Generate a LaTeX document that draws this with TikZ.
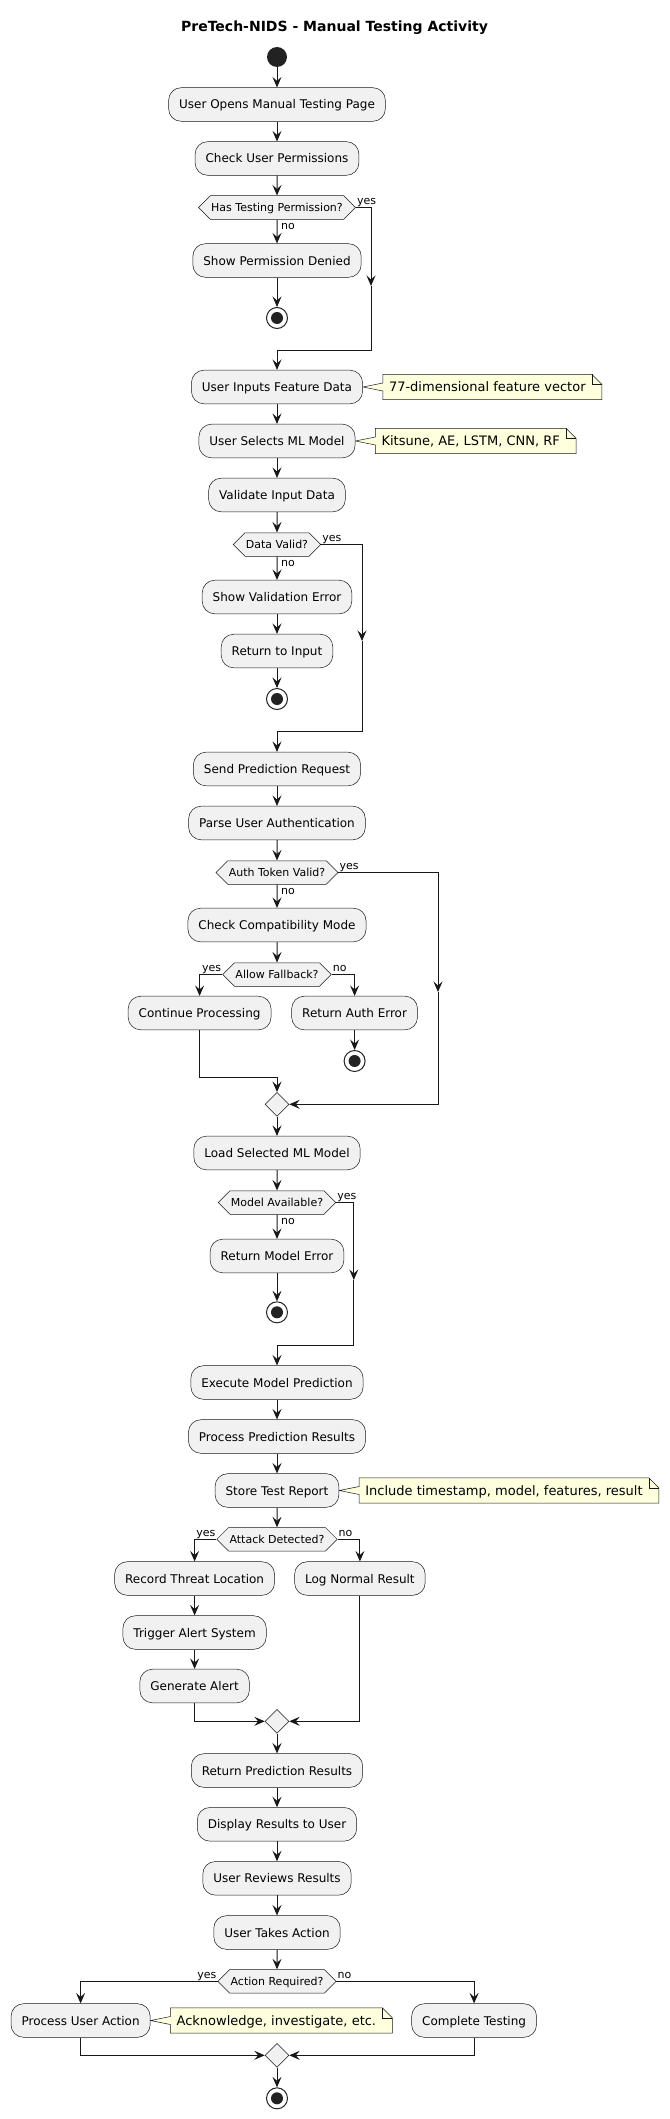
\documentclass[tikz,border=0pt]{standalone}
\usepackage{fontspec}
\setmainfont{DejaVu Sans}
\usetikzlibrary{positioning,arrows.meta,shapes.geometric,shapes.symbols,backgrounds}
\definecolor{actfill}{HTML}{F1F1F1}
\definecolor{edge}{HTML}{181818}
\definecolor{dot}{HTML}{222222}
\definecolor{notebg}{HTML}{FEFFDD}
\tikzset{%
  flow/.style = {-{Stealth[length=10.5pt,width=9pt,inset=4pt]},draw=edge,line width=1pt},
  act/.style = {rectangle,rounded corners=12.5pt,draw=edge,line width=0.5pt,fill=actfill,
        minimum height=33.6pt,inner xsep=10.5pt,inner ysep=0pt,text height=11pt,
        text depth=2pt,font=\fontsize{12}{14}\selectfont},
  dec/.style = {signal,signal to=east and west,signal pointer angle=90,draw=edge,
        line width=0.5pt,fill=actfill,minimum height=23.5pt,inner xsep=1pt,inner ysep=0pt,
        text height=9.5pt,text depth=2pt,font=\fontsize{11}{13}\selectfont},
  joint/.style = {diamond,draw=edge,line width=0.5pt,fill=actfill,minimum width=24pt,
        minimum height=24pt,inner sep=0pt},
  startdot/.style = {circle,fill=dot,minimum size=20pt,inner sep=0pt},
  stopdot/.style = {circle,draw=dot,line width=1pt,fill=white,minimum size=21pt,inner sep=0pt,
        path picture={\fill[dot] (path picture bounding box.center) circle (6pt);}},
  memo/.style = {rectangle,inner xsep=6pt,inner ysep=0pt,minimum height=25pt,
        text height=11.5pt,text depth=2pt,font=\fontsize{13}{15}\selectfont},
  memoedge/.style = {draw=edge,line width=0.5pt,fill=notebg},
  lbl/.style = {inner sep=0pt,font=\fontsize{11}{13}\selectfont}
}
% note outline with folded corner and a tail to its activity
\newcommand{\memoframe}[2]{%
  \begin{scope}[on background layer]
    \draw[memoedge] (#1.north west) -- (#1.north east)
      -- ([xshift=10pt,yshift=-10pt]#1.north east) -- ([xshift=10pt]#1.south east)
      -- (#1.south west) -- ([yshift=-4pt]#1.west) -- (#2.east)
      -- ([yshift=4pt]#1.west) -- cycle;
    \draw[memoedge,fill=none] (#1.north east) -- ([yshift=-10pt]#1.north east)
      -- ([xshift=10pt,yshift=-10pt]#1.north east);
  \end{scope}}

\begin{document}
\begin{tikzpicture}[x=1pt,y=-1pt]
\useasboundingbox (0,0) rectangle (669,2119);
\node[font=\bfseries\fontsize{14}{16}\selectfont] (title) at (334.5,28) {PreTech-NIDS - Manual Testing Activity};

% permission check
\node[startdot] (start) at (277,57) {};
\node[act] (open) at (277,104.5) {User Opens Manual Testing Page};
\node[act] (perm) at (277,158.5) {Check User Permissions};
\node[dec] (hasperm) at (277,207.5) {Has Testing Permission?};
\node[act] (denied) at (277,260.5) {Show Permission Denied};
\node[stopdot] (stopA) at (277,318) {};
\coordinate (permyes) at (371,286);
\coordinate (permjoin) at (277,350);
\node[lbl,anchor=base west] (permy) at ([xshift=1pt,yshift=3pt]hasperm.east) {yes};
\node[lbl,anchor=base west] (permn) at ([xshift=4pt,yshift=-10pt]hasperm.south) {no};

% input
\node[act] (inputs) at (277,387) {User Inputs Feature Data};
\node[memo,right=20pt of inputs] (noteinputs) {77-dimensional feature vector};
\node[act] (selects) at (277,441) {User Selects ML Model};
\node[memo,right=20pt of selects] (noteselects) {Kitsune, AE, LSTM, CNN, RF};
\node[act] (validate) at (277,495) {Validate Input Data};
\node[dec] (valid) at (277,544.5) {Data Valid?};
\node[act] (valerr) at (277,597) {Show Validation Error};
\node[act] (back) at (277,651) {Return to Input};
\node[stopdot] (stopB) at (277,699) {};
\coordinate (validyes) at (362,641);
\coordinate (validjoin) at (277,731.7);
\node[lbl,anchor=base west] (validy) at ([xshift=1pt,yshift=3pt]valid.east) {yes};
\node[lbl,anchor=base west] (validn) at ([xshift=4pt,yshift=-10pt]valid.south) {no};

% authentication
\node[act] (send) at (277,769) {Send Prediction Request};
\node[act] (parse) at (277,823) {Parse User Authentication};
\node[dec] (token) at (277,872.5) {Auth Token Valid?};
\node[act] (compat) at (277,925) {Check Compatibility Mode};
\node[dec] (fallback) at (277,974.5) {Allow Fallback?};
\node[act] (cont) at (199.6,1013) {Continue Processing};
\node[act] (autherr) at (354.6,1013) {Return Auth Error};
\node[stopdot] (stopC) at (354.6,1061) {};
\coordinate (contbend) at (277,1077.3);
\node[joint] (authjoin) at (277,1104.3) {};
\coordinate (tokenyes) at (438,992);
\node[lbl,anchor=base west] (tokeny) at ([xshift=1pt,yshift=3pt]token.east) {yes};
\node[lbl,anchor=base west] (tokenn) at ([xshift=4pt,yshift=-10pt]token.south) {no};
\node[lbl,anchor=base east] (fally) at ([xshift=-1pt,yshift=3pt]fallback.west) {yes};
\node[lbl,anchor=base west] (falln) at ([xshift=1pt,yshift=3pt]fallback.east) {no};

% model
\node[act] (load) at (277,1153) {Load Selected ML Model};
\node[dec] (avail) at (277,1202.5) {Model Available?};
\node[act] (moderr) at (277,1256) {Return Model Error};
\node[stopdot] (stopD) at (277,1312.3) {};
\coordinate (availyes) at (353.8,1280);
\coordinate (availjoin) at (277,1345);
\node[lbl,anchor=base west] (availy) at ([xshift=1pt,yshift=3pt]avail.east) {yes};
\node[lbl,anchor=base west] (availn) at ([xshift=4pt,yshift=-10pt]avail.south) {no};
\node[act] (exec) at (277,1382.5) {Execute Model Prediction};
\node[act] (proc) at (277,1436.5) {Process Prediction Results};
\node[act] (store) at (277,1490.5) {Store Test Report};
\node[memo,right=20pt of store] (notestore) {Include timestamp, model, features, result};

% attack branch
\node[dec] (attack) at (277,1539.3) {Attack Detected?};
\node[act] (record) at (194.6,1578.5) {Record Threat Location};
\node[act] (lognormal) at (359.9,1578.5) {Log Normal Result};
\node[act] (trigger) at (194.6,1632.5) {Trigger Alert System};
\node[act] (alert) at (194.6,1686) {Generate Alert};
\node[joint] (attackjoin) at (277,1721.3) {};
\node[lbl,anchor=base east] (attacky) at ([xshift=-1pt,yshift=3pt]attack.west) {yes};
\node[lbl,anchor=base west] (attackn) at ([xshift=1pt,yshift=3pt]attack.east) {no};

% results
\node[act] (ret) at (277,1770.5) {Return Prediction Results};
\node[act] (display) at (277,1824.3) {Display Results to User};
\node[act] (review) at (277,1878.3) {User Reviews Results};
\node[act] (takes) at (277,1932.5) {User Takes Action};
\node[dec] (required) at (277,1981.3) {Action Required?};
\node[act] (useract) at (80.6,2020.5) {Process User Action};
\node[memo,right=20pt of useract] (noteuser) {Acknowledge, investigate, etc.};
\node[act] (complete) at (474.1,2020.5) {Complete Testing};
\node[joint] (endjoin) at (277,2055.3) {};
\node[stopdot] (stopE) at (277,2098.3) {};
\node[lbl,anchor=base east] (requiredy) at ([xshift=-1pt,yshift=3pt]required.west) {yes};
\node[lbl,anchor=base west] (requiredn) at ([xshift=1pt,yshift=3pt]required.east) {no};

% notes
\memoframe{noteinputs}{inputs}
\memoframe{noteselects}{selects}
\memoframe{notestore}{store}
\memoframe{noteuser}{useract}

% connectors
\draw[flow] (start) -- (open);
\draw[flow] (open) -- (perm);
\draw[flow] (perm) -- (hasperm);
\draw[flow] (hasperm) -- (denied);
\draw[flow] (denied) -- (stopA);
\draw[flow] (hasperm.east) -| (permyes);
\draw[flow] (permyes) |- (permjoin) -- (inputs);
\draw[flow] (inputs) -- (selects);
\draw[flow] (selects) -- (validate);
\draw[flow] (validate) -- (valid);
\draw[flow] (valid) -- (valerr);
\draw[flow] (valerr) -- (back);
\draw[flow] (back) -- (stopB);
\draw[flow] (valid.east) -| (validyes);
\draw[flow] (validyes) |- (validjoin) -- (send);
\draw[flow] (send) -- (parse);
\draw[flow] (parse) -- (token);
\draw[flow] (token) -- (compat);
\draw[flow] (compat) -- (fallback);
\draw[flow] (fallback.west) -| (cont.north);
\draw[flow] (fallback.east) -| (autherr.north);
\draw[flow] (autherr) -- (stopC);
\draw[flow] (cont.south) |- (contbend) -- (authjoin.north);
\draw[flow] (token.east) -| (tokenyes);
\draw[flow] (tokenyes) |- (authjoin.east);
\draw[flow] (authjoin) -- (load);
\draw[flow] (load) -- (avail);
\draw[flow] (avail) -- (moderr);
\draw[flow] (moderr) -- (stopD);
\draw[flow] (avail.east) -| (availyes);
\draw[flow] (availyes) |- (availjoin) -- (exec);
\draw[flow] (exec) -- (proc);
\draw[flow] (proc) -- (store);
\draw[flow] (store) -- (attack);
\draw[flow] (attack.west) -| (record.north);
\draw[flow] (attack.east) -| (lognormal.north);
\draw[flow] (record) -- (trigger);
\draw[flow] (trigger) -- (alert);
\draw[flow] (alert.south) |- (attackjoin.west);
\draw[flow] (lognormal.south) |- (attackjoin.east);
\draw[flow] (attackjoin) -- (ret);
\draw[flow] (ret) -- (display);
\draw[flow] (display) -- (review);
\draw[flow] (review) -- (takes);
\draw[flow] (takes) -- (required);
\draw[flow] (required.west) -| (useract.north);
\draw[flow] (required.east) -| (complete.north);
\draw[flow] (useract.south) |- (endjoin.west);
\draw[flow] (complete.south) |- (endjoin.east);
\draw[flow] (endjoin) -- (stopE);
\end{tikzpicture}
\end{document}
